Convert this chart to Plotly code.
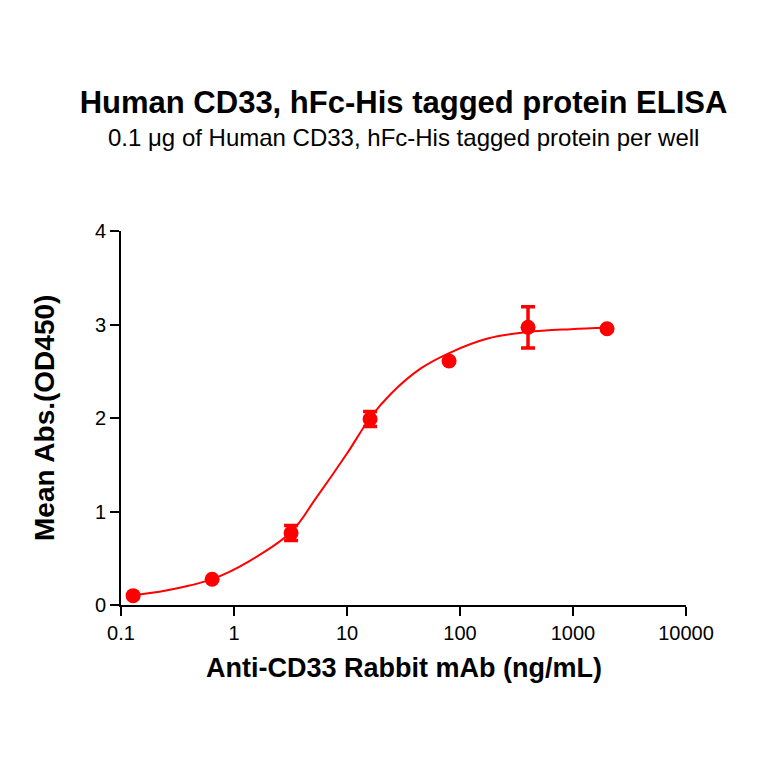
import plotly.graph_objects as go

# Measured points (5-fold dilution series)
conc = [0.128, 0.64, 3.2, 16, 80, 400, 2000]
mean_abs = [0.10, 0.275, 0.77, 1.99, 2.61, 2.97, 2.955]
err = [0.0, 0.0, 0.08, 0.08, 0.0, 0.22, 0.0]

# Fitted curve
curve_x = [0.128, 0.25, 0.65, 1.37, 3.2, 5.3, 10, 16, 24.5, 45, 82, 176, 400, 960, 2000]
curve_y = [0.105, 0.155, 0.28, 0.47, 0.78, 1.14, 1.62, 2.0, 2.26, 2.53, 2.70, 2.85, 2.92, 2.95, 2.965]

x_ticks = [0.1, 1, 10, 100, 1000, 10000]
x_tick_text = ["0.1", "1", "10", "100", "1000", "10000"]
y_ticks = [0, 1, 2, 3, 4]

RED = "#FF0000"
FONT = "Arial, Liberation Sans, sans-serif"
OFF = 7  # page offset of the figure inside the browser window

fig = go.Figure()
fig.add_trace(go.Scatter(
    x=curve_x, y=curve_y, mode="lines", line=dict(color=RED, width=2, shape="spline"),
    hoverinfo="skip", showlegend=False))
fig.add_trace(go.Scatter(
    x=conc, y=mean_abs, mode="markers",
    marker=dict(color=RED, size=15, symbol="circle"),
    error_y=dict(type="data", array=err, visible=True, color=RED, thickness=3.5, width=7),
    showlegend=False))

fig.update_layout(
    width=764, height=764,
    margin=dict(l=120 - OFF, r=79 + OFF, t=230 - OFF, b=160 + OFF),
    paper_bgcolor="white", plot_bgcolor="white",
    font=dict(family=FONT, color="black", size=18),
    title=dict(text="<b>Human CD33, hFc-His tagged protein ELISA</b>",
               x=0.5, xref="paper", xanchor="center",
               y=1 - (101 - OFF) / 764, yref="container", yanchor="middle",
               font=dict(size=31, family=FONT, color="black")),
    annotations=[
        dict(text="0.1 μg of Human CD33, hFc-His tagged protein per well",
             x=0.5, xref="paper", y=(604 - 136) / 374, yref="paper",
             xanchor="center", yanchor="middle", showarrow=False,
             font=dict(size=24, family=FONT, color="black")),
        dict(text="<b>Anti-CD33 Rabbit mAb (ng/mL)</b>",
             x=0.5, xref="paper", y=(604 - 667) / 374, yref="paper",
             xanchor="center", yanchor="middle", showarrow=False,
             font=dict(size=27, family=FONT, color="black")),
        dict(text="<b>Mean Abs.(OD450)</b>", textangle=-90,
             x=(43 - 120) / 565, xref="paper", y=(604 - 417) / 374, yref="paper",
             xanchor="center", yanchor="middle", showarrow=False,
             font=dict(size=28, family=FONT, color="black")),
    ],
)

fig.update_xaxes(
    type="log", range=[-1, 4], tickvals=x_ticks, ticktext=x_tick_text,
    showline=True, linecolor="black", linewidth=2, showgrid=False, zeroline=False,
    ticks="outside", ticklen=9, tickwidth=2, tickcolor="black",
    tickfont=dict(size=20, family=FONT, color="black"))
fig.update_yaxes(
    range=[0, 4], tickvals=y_ticks,
    showline=True, linecolor="black", linewidth=2, showgrid=False, zeroline=False,
    ticks="outside", ticklen=9, tickwidth=2, tickcolor="black",
    tickfont=dict(size=20, family=FONT, color="black"))

fig.write_html("out.html")
